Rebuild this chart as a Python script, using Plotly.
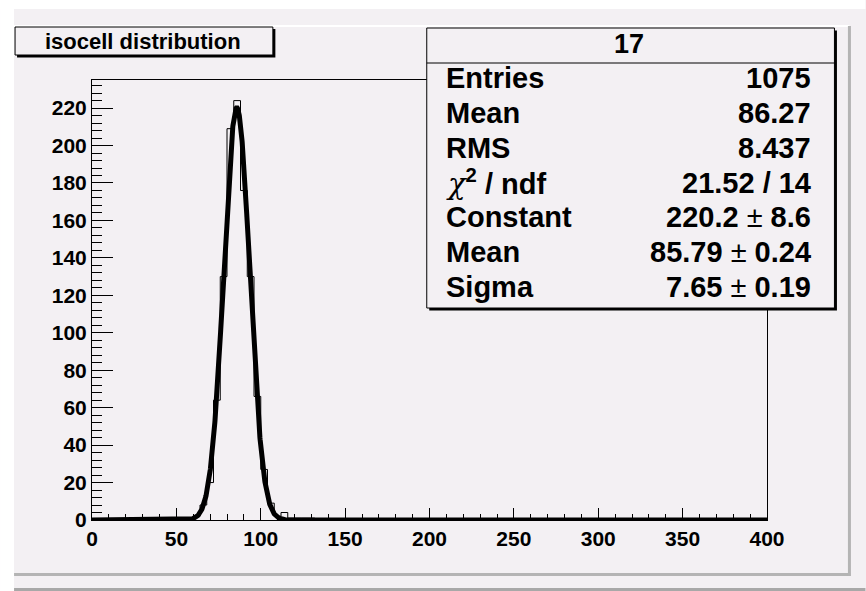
import numpy as np
import plotly.graph_objects as go

# ---- histogram "17": 100 bins of width 4 between 0 and 400 ----
x_min, x_max, bin_width = 0, 400, 4
# lower edges of the filled bins and their contents
filled_bin_low = [60, 64, 68, 72, 76, 80, 84, 88, 92, 96, 100, 104, 108, 112, 116, 120, 124, 128]
filled_bin_count = [2, 8, 20, 64, 130, 209, 224, 176, 130, 66, 27, 9, 2, 4, 1, 1, 1, 1]

# gaussian fit parameters
fit_constant = 220.2
fit_mean = 85.79
fit_sigma = 7.65

# statistics box
stats_title = "17"
stat_labels = ["Entries", "Mean", "RMS", "chi2", "Constant", "Mean", "Sigma"]
stat_values = ["1075", "86.27", "8.437", "21.52 / 14", "220.2 ± 8.6", "85.79 ± 0.24", "7.65 ± 0.19"]

hist_title = "isocell distribution"
x_ticks = [0, 50, 100, 150, 200, 250, 300, 350, 400]
y_ticks = [0, 20, 40, 60, 80, 100, 120, 140, 160, 180, 200, 220]
y_top = 235

# ---- build the full binned histogram ----
edges = np.arange(x_min, x_max + bin_width, bin_width)
counts = np.zeros(len(edges) - 1)
for lo, c in zip(filled_bin_low, filled_bin_count):
    counts[int((lo - x_min) / bin_width)] = c
step_y = np.append(counts, counts[-1])

fx = np.linspace(x_min, x_max, 4001)
fy = fit_constant * np.exp(-0.5 * ((fx - fit_mean) / fit_sigma) ** 2)

# ---- canvas geometry (pixels) ----
W, H = 866, 591
L, R, T, B = 92, 767.5, 80, 520
BG = "#f3f0f3"
FONT = "Liberation Sans, Arial, Helvetica, sans-serif"


def px(x):
    return (x - L) / (R - L)


def py(y):
    return (B - y) / (B - T)


fig = go.Figure()
fig.add_trace(go.Scatter(x=edges, y=step_y, mode="lines", line=dict(color="black", width=1, shape="hv"),
                         hoverinfo="skip", showlegend=False))
fig.add_trace(go.Scatter(x=fx, y=fy, mode="lines", line=dict(color="black", width=5),
                         hoverinfo="skip", showlegend=False))

shapes = []


def rect(x0, y0, x1, y1, fill, line_color=None, lw=0):
    shapes.append(dict(type="rect", xref="paper", yref="paper", layer="above",
                       x0=px(x0), x1=px(x1), y0=py(y1), y1=py(y0),
                       fillcolor=fill, line=dict(color=line_color or fill, width=lw)))


def seg(x0, y0, x1, y1, color, lw):
    shapes.append(dict(type="line", xref="paper", yref="paper", layer="above",
                       x0=px(x0), x1=px(x1), y0=py(y0), y1=py(y1),
                       line=dict(color=color, width=lw)))


# canvas bevel
rect(0, 0, W, 9, "white")
rect(0, 0, 14, H, "white")
rect(14, 588, W, H, "#a8a8a8")
seg(14, 26, 850, 26, "white", 2)
seg(14, 574.5, 851, 574.5, "#b4b4b4", 3)
seg(850, 26, 850, 576, "#b4b4b4", 3)

# title box with shadow
rect(17, 29, 275.5, 57.5, "black")
rect(15, 27, 273, 55, BG, "black", 1)

# statistics box with shadow
rect(429.5, 30.5, 837.5, 310.5, "black")
rect(427, 28, 835, 308, BG, "black", 1)
seg(427, 63, 835, 63, "black", 1)

annotations = []


def text(x, y, s, size, anchor="center"):
    annotations.append(dict(xref="paper", yref="paper", x=px(x), y=py(y), text=s, showarrow=False,
                            xanchor=anchor, yanchor="middle", font=dict(family=FONT, size=size, color="black")))


def bold_value(v):
    parts = v.split("±")
    return " ± ".join("<b>" + p.strip() + "</b>" for p in parts)


text(143, 41, "<b>" + hist_title + "</b>", 22)
text(629, 44, "<b>" + stats_title + "</b>", 27)
row_y = [78, 113, 147.5, 182.5, 217, 252, 287]
for lab, val, yy in zip(stat_labels, stat_values, row_y):
    if lab == "chi2":
        lab_html = "<span style='font-family:DejaVu Serif'><i>χ</i></span><sup><b>2</b></sup><b> / ndf</b>"
    else:
        lab_html = "<b>" + lab + "</b>"
    text(444, yy, lab_html, 29, "left")
    text(814, yy, bold_value(val), 29, "right")

fig.update_layout(
    width=W, height=H,
    margin=dict(l=L, r=W - R, t=T, b=H - B),
    paper_bgcolor=BG, plot_bgcolor=BG,
    shapes=shapes, annotations=annotations,
    xaxis=dict(range=[x_min, x_max], tickvals=x_ticks, ticktext=[str(v) for v in x_ticks],
               showgrid=False, zeroline=False, showline=True, mirror=True, linecolor="black", linewidth=1,
               ticks="inside", ticklen=12, tickwidth=1, tickcolor="black",
               minor=dict(ticks="inside", ticklen=6, dtick=10, tickcolor="black", tickwidth=1, showgrid=False),
               tickfont=dict(family=FONT, size=21, color="black", weight="bold")),
    yaxis=dict(range=[0, y_top], tickvals=y_ticks, ticktext=[str(v) for v in y_ticks],
               showgrid=False, zeroline=False, showline=True, mirror=True, linecolor="black", linewidth=1,
               ticks="inside", ticklen=21, tickwidth=1, tickcolor="black",
               minor=dict(ticks="inside", ticklen=10, dtick=4, tickcolor="black", tickwidth=1, showgrid=False),
               tickfont=dict(family=FONT, size=21, color="black", weight="bold")),
)

fig.write_html("out.html")
